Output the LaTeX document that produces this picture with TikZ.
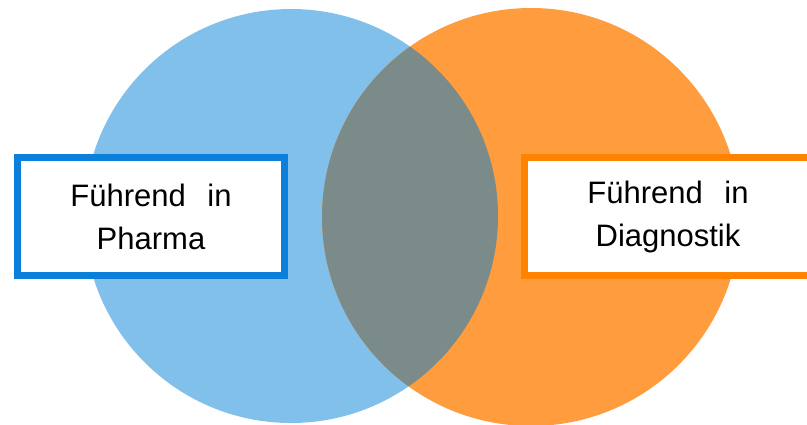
\documentclass[tikz,border=0pt]{standalone}
\usepackage{fontspec}
\setmainfont{Liberation Sans}
\usepackage{tikz}

\definecolor{pharmafill}{HTML}{80C0EB}
\definecolor{diagfill}{HTML}{FE9C3E}
\definecolor{bothfill}{HTML}{7B8B89}
\definecolor{pharmaline}{HTML}{0A80DA}
\definecolor{diagline}{HTML}{FF8200}

\begin{document}
\begin{tikzpicture}[x=1pt, y=-1pt,
    fieldbox/.style={draw, fill=white, line width=7pt, align=center,
        font=\fontsize{31}{43}\selectfont, text=black,
        minimum height=118pt, inner sep=0pt}]
            \useasboundingbox (0,0) rectangle (807,424);

            % the two fields
            \fill[pharmafill] (291,216) circle (207pt);
            \fill[diagfill] (531,217) circle (209pt);
            \begin{scope}
                \clip (291,216) circle (207pt);
                \fill[bothfill] (531,217) circle (209pt);
            \end{scope}

            % labels
            \node[fieldbox, draw=pharmaline, minimum width=267pt] (pharma) at (151,216.5) {Führend\hspace{0.7em}in\\Pharma};
            \node[fieldbox, draw=diagline, minimum width=287pt] (diag) at (668,216.5) {Führend\hspace{0.7em}in\\Diagnostik};
        \end{tikzpicture}
\end{document}
